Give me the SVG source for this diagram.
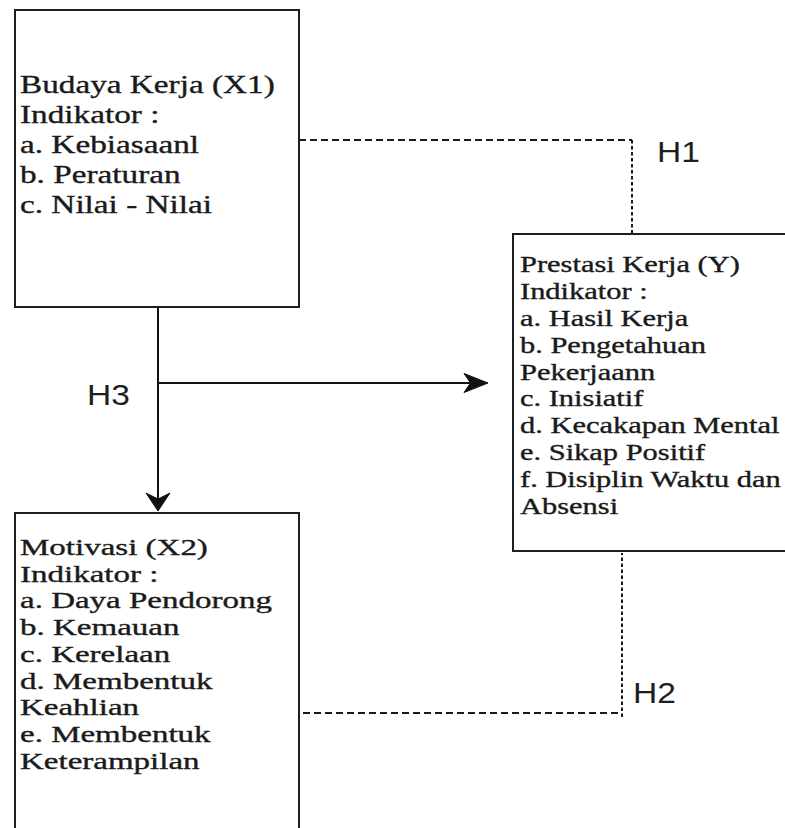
<svg xmlns="http://www.w3.org/2000/svg" width="785" height="828" viewBox="0 0 785 828">
  <style>
    .box { fill: #ffffff; stroke: #1e1e1e; stroke-width: 2; }
    .body { font-family: "Liberation Serif", "Times New Roman", serif; fill: #1a1a1a; stroke: #1a1a1a; stroke-width: 0.35; }
    .hyp { font-family: "Liberation Sans", Arial, sans-serif; font-size: 30px; fill: #1e1e1e; }
    .solid { fill: none; stroke: #111111; stroke-width: 2; }
    .dash-h { fill: none; stroke: #1a1a1a; stroke-width: 2; stroke-dasharray: 7 4; }
    .dash-v { fill: none; stroke: #1a1a1a; stroke-width: 2; stroke-dasharray: 3.5 2.5; }
    .head { fill: #111111; stroke: #111111; stroke-width: 1; stroke-linejoin: miter; }
  </style>

  <rect width="785" height="828" fill="#ffffff"/>

  <!-- Connectors -->
  <g id="connectors">
    <!-- H1: Budaya Kerja to Prestasi Kerja -->
    <path class="dash-h" d="M 299 140 L 632 140"/>
    <path class="dash-v" d="M 632 140 L 632 234"/>
    <!-- H2: Motivasi to Prestasi Kerja -->
    <path class="dash-h" d="M 303 713 L 622 713"/>
    <path class="dash-v" d="M 622 717 L 622 553"/>
    <!-- H3: Budaya Kerja down to Motivasi, branch to Prestasi Kerja -->
    <path class="solid" d="M 158 307 L 158 500"/>
    <path class="solid" d="M 158 383 L 472 383"/>
    <path class="head" d="M 158 511 L 146 493 L 158 499 L 170 493 Z"/>
    <path class="head" d="M 488 383 L 464 373.5 L 470.5 383 L 464 392.5 Z"/>
  </g>

  <!-- Hypothesis labels -->
  <g id="labels">
    <text class="hyp" transform="translate(657,162) scale(1.12,1)">H1</text>
    <text class="hyp" transform="translate(633,703) scale(1.12,1)">H2</text>
    <text class="hyp" transform="translate(87,405) scale(1.12,1)">H3</text>
  </g>

  <!-- Budaya Kerja (X1) -->
  <g id="node-x1">
    <rect class="box" x="15" y="10" width="284" height="297"/>
    <g class="body" font-size="25" transform="translate(20,0) scale(1.33,1)">
      <text x="0" y="93">Budaya Kerja (X1)</text>
      <text x="0" y="123">Indikator :</text>
      <text x="0" y="153">a. Kebiasaanl</text>
      <text x="0" y="183">b. Peraturan</text>
      <text x="0" y="213">c. Nilai - Nilai</text>
    </g>
  </g>

  <!-- Prestasi Kerja (Y) -->
  <g id="node-y">
    <rect class="box" x="513" y="234" width="290" height="317"/>
    <g class="body" font-size="22.4" transform="translate(520,0) scale(1.36,1)">
      <text x="0" y="272">Prestasi Kerja (Y)</text>
      <text x="0" y="299">Indikator :</text>
      <text x="0" y="326">a. Hasil Kerja</text>
      <text x="0" y="353">b. Pengetahuan</text>
      <text x="0" y="380">Pekerjaann</text>
      <text x="0" y="406">c. Inisiatif</text>
      <text x="0" y="433">d. Kecakapan Mental</text>
      <text x="0" y="460">e. Sikap Positif</text>
      <text x="0" y="487">f. Disiplin Waktu dan</text>
      <text x="0" y="514">Absensi</text>
    </g>
  </g>

  <!-- Motivasi (X2) -->
  <g id="node-x2">
    <rect class="box" x="15" y="513" width="284" height="330"/>
    <g class="body" font-size="22.3" transform="translate(20,0) scale(1.48,1)">
      <text x="0" y="555">Motivasi (X2)</text>
      <text x="0" y="582">Indikator :</text>
      <text x="0" y="608">a. Daya Pendorong</text>
      <text x="0" y="635">b. Kemauan</text>
      <text x="0" y="662">c. Kerelaan</text>
      <text x="0" y="689">d. Membentuk</text>
      <text x="0" y="715">Keahlian</text>
      <text x="0" y="742">e. Membentuk</text>
      <text x="0" y="769">Keterampilan</text>
    </g>
  </g>
</svg>
